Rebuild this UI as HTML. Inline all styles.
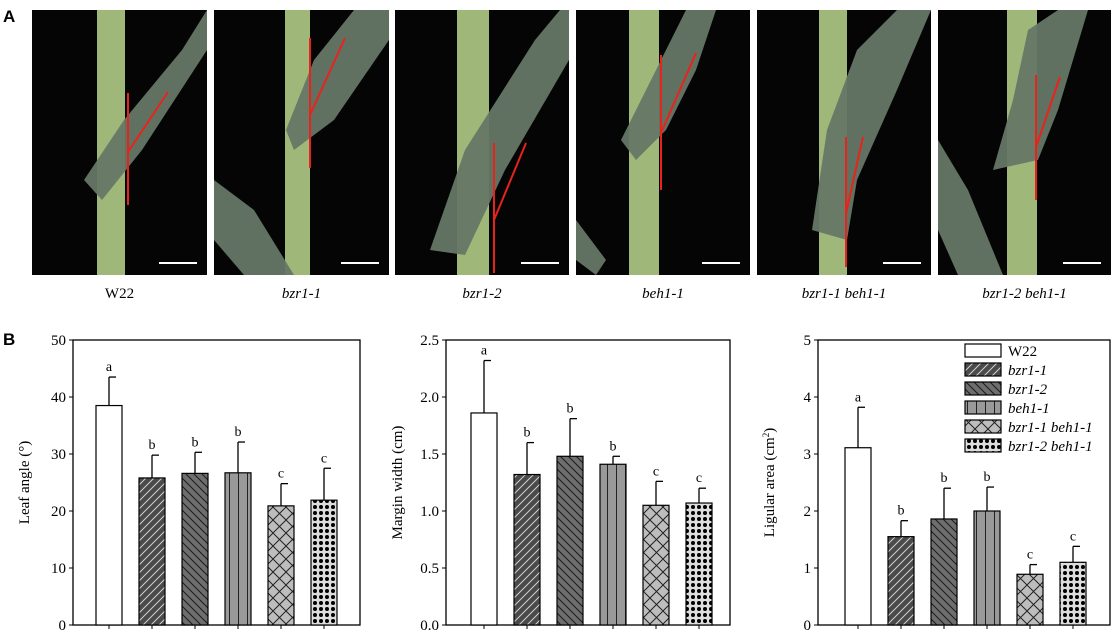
<!DOCTYPE html>
<html><head><meta charset="utf-8"><style>
html,body{margin:0;padding:0;background:#fff;width:1117px;height:637px;overflow:hidden}
svg text{font-family:"Liberation Serif",serif}
</style></head><body>
<svg id="fig" width="1117" height="637" viewBox="0 0 1117 637" xmlns="http://www.w3.org/2000/svg">
<defs>
<pattern id="p1" width="8" height="8" patternUnits="userSpaceOnUse"><rect width="8" height="8" fill="#4a4a4a"/><path d="M-2,10 L10,-2 M-2,2 L2,-2 M6,10 L10,6" stroke="#d0d0d0" stroke-width="1"/></pattern>
<pattern id="p2" width="8" height="8" patternUnits="userSpaceOnUse"><rect width="8" height="8" fill="#6e6e6e"/><path d="M-2,-2 L10,10 M6,-2 L10,2 M-2,6 L2,10" stroke="#1a1a1a" stroke-width="1"/></pattern>
<pattern id="p3" width="9" height="8" patternUnits="userSpaceOnUse"><rect width="9" height="8" fill="#999"/><path d="M4.5,0 L4.5,8" stroke="#222" stroke-width="1"/></pattern>
<pattern id="p4" width="13" height="13" patternUnits="userSpaceOnUse"><rect width="13" height="13" fill="#bdbdbd"/><path d="M0,0 L13,13 M13,0 L0,13" stroke="#222" stroke-width="1"/></pattern>
<pattern id="p5" width="6" height="6" patternUnits="userSpaceOnUse"><rect width="6" height="6" fill="#ddd"/><circle cx="3" cy="3" r="2" fill="#000"/></pattern>
</defs>
<text x="3" y="22" font-weight="bold" font-size="17" style="font-family:'Liberation Sans',sans-serif">A</text>
<text x="3" y="345" font-weight="bold" font-size="17" style="font-family:'Liberation Sans',sans-serif">B</text>
<g id="photos"></g>
<g id="charts"></g>
</svg>
<script>
const NS="http://www.w3.org/2000/svg";
const genotypes=["W22","bzr1-1","bzr1-2","beh1-1","bzr1-1 beh1-1","bzr1-2 beh1-1"];
const fills=["#fff","url(#p1)","url(#p2)","url(#p3)","url(#p4)","url(#p5)"];
const leafAngle=[38.5,25.8,26.6,26.7,20.9,21.9];
const leafAngleErr=[5.0,4.0,3.7,5.4,3.9,5.6];
const marginWidth=[1.86,1.32,1.48,1.41,1.05,1.07];
const marginWidthErr=[0.46,0.28,0.33,0.07,0.21,0.13];
const ligArea=[3.11,1.55,1.86,2.0,0.89,1.10];
const ligAreaErr=[0.71,0.28,0.54,0.42,0.17,0.28];
const letters=["a","b","b","b","c","c"];
const ticks1=["0","10","20","30","40","50"];
const ticks2=["0.0","0.5","1.0","1.5","2.0","2.5"];
const ticks3=["0","1","2","3","4","5"];
function el(t,a,p){const e=document.createElementNS(NS,t);for(const k in a)e.setAttribute(k,a[k]);p.appendChild(e);return e;}
const photoX=[32,214,395,576,757,938];
const photoW=[175,175,174,174,174,173];
const stem=[[65,93],[71,96],[62,94],[53,83],[62,90],[69,99]];
const red=[[96,83,195,142,136,82],[96,28,158,105,131,28],[99,133,263,210,131,133],[85,45,180,123,120,43],[89,127,257,203,106,127],[98,65,190,137,122,67]];
const leaves=[
 "M52,170 L92,110 L150,40 L175,0 L175,40 L110,140 L70,190 Z",
 "M72,120 L100,50 L140,0 L175,0 L175,30 L120,110 L80,140 Z M0,170 L40,200 L80,265 L30,265 L0,230 Z",
 "M35,240 L70,140 L140,30 L165,0 L174,0 L174,50 L110,160 L70,245 Z",
 "M45,130 L70,80 L110,0 L140,0 L120,60 L90,120 L60,150 Z M0,210 L30,250 L20,265 L0,250 Z",
 "M55,220 L70,120 L100,40 L140,0 L174,0 L140,80 L100,170 L90,230 Z",
 "M55,160 L75,90 L90,20 L120,0 L150,0 L120,100 L100,150 Z M0,130 L30,180 L65,265 L20,265 L0,220 Z"
];
const photos=document.getElementById('photos');
for(let i=0;i<6;i++){
 const g=el('g',{transform:`translate(${photoX[i]},10)`},photos);
 
 
 el('rect',{x:0,y:0,width:photoW[i],height:265,fill:'#050505'},g);
 el('rect',{x:stem[i][0],y:0,width:stem[i][1]-stem[i][0],height:265,fill:'#9fb779'},g);
 el('path',{d:leaves[i],fill:'#667766',opacity:0.95},g);
 const r=red[i];
 el('line',{x1:r[0],y1:r[1],x2:r[0],y2:r[2],stroke:'#e8231c','stroke-width':2},g);
 el('line',{x1:r[0],y1:r[3],x2:r[4],y2:r[5],stroke:'#e8231c','stroke-width':2},g);
 el('line',{x1:photoW[i]-48,y1:253,x2:photoW[i]-10,y2:253,stroke:'#fff','stroke-width':2},g);
 const t=el('text',{x:photoX[i]+photoW[i]/2,y:298,'text-anchor':'middle','font-size':'15','font-style':i?'italic':'normal'},photos);
 t.textContent=genotypes[i];
 
 
}
const charts=document.getElementById('charts');
function chart(x0,x1,max,vals,errs,ticks,title,name,off){
 const y0=625,yt=340;
 const g=el('g',{},charts);
 
 
 const ys=v=>y0-(v/max)*(y0-yt);
 el('rect',{x:x0,y:yt,width:x1-x0,height:y0-yt,fill:'none',stroke:'#000','stroke-width':1.3},g);
 ticks.forEach((tk,i)=>{const v=max*i/(ticks.length-1);const y=ys(v);
  el('line',{x1:x0-4,y1:y,x2:x0,y2:y,stroke:'#000'},g);
  const t=el('text',{x:x0-7,y:y+5,'text-anchor':'end','font-size':'15'},g);t.textContent=tk;
  
  });
 const ty=el('text',{transform:`translate(${x0-44},${(y0+yt)/2}) rotate(-90)`,'text-anchor':'middle','font-size':'15'},g);
 ty.innerHTML=title;
 
 
 vals.forEach((v,i)=>{const cx=x0+off+43*i;
  el('line',{x1:cx,y1:y0,x2:cx,y2:y0+4,stroke:'#000'},g);
  const top=ys(v+errs[i]);
  el('line',{x1:cx,y1:ys(v),x2:cx,y2:top,stroke:'#000','stroke-width':1.3},g);
  el('line',{x1:cx,y1:top,x2:cx+7,y2:top,stroke:'#000','stroke-width':1.3},g);
  const b=el('rect',{x:cx-13,y:ys(v),width:26,height:y0-ys(v),fill:fills[i],stroke:'#000','stroke-width':1.2},g);
  
  
  const t=el('text',{x:cx,y:top-6,'text-anchor':'middle','font-size':'14'},g);t.textContent=letters[i];
  
  });
}
chart(73,360,50,leafAngle,leafAngleErr,ticks1,"Leaf angle (°)","leaf-angle-chart",36);
chart(446,730,2.5,marginWidth,marginWidthErr,ticks2,"Margin width (cm)","margin-width-chart",38);
chart(818,1110,5,ligArea,ligAreaErr,ticks3,'Ligular area (cm<tspan baseline-shift="super" font-size="9">2</tspan>)',"ligular-area-chart",40);
const lg=el('g',{},charts);


genotypes.forEach((gn,i)=>{const y=344+19*i;
 el('rect',{x:965,y:y,width:36,height:13,fill:fills[i],stroke:'#000','stroke-width':1.2},lg);
 const t=el('text',{x:1008,y:y+12,'font-size':'15','font-style':i?'italic':'normal'},lg);t.textContent=gn;
 
 });
</script>
</body></html>
